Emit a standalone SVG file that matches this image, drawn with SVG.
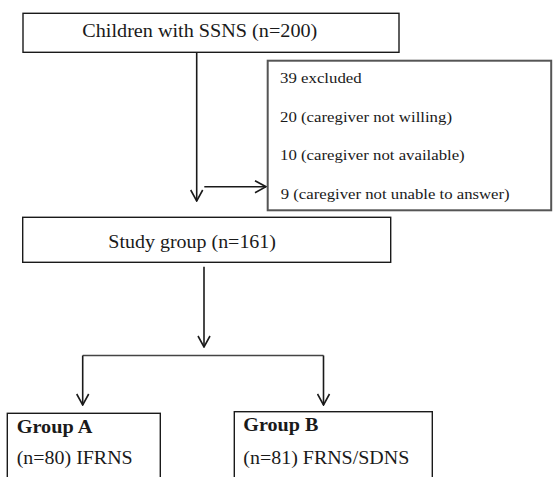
<svg xmlns="http://www.w3.org/2000/svg" width="553" height="477" viewBox="0 0 553 477">
<defs>
<style>
.box{fill:#fff;stroke:#1a1a1a;stroke-width:1.4}
.gbox{fill:#fff;stroke:#555;stroke-width:2}
.t{font-family:"Liberation Serif","Times New Roman",serif;fill:#1a1a1a}
.big{font-size:18px}
.small{font-size:15.5px}
.b{font-weight:bold}
.c{fill:none;stroke:#1a1a1a;stroke-width:1.6}
</style>
<marker id="arr" viewBox="-13 -7 14 14" refX="0" refY="0" markerWidth="14" markerHeight="14" markerUnits="userSpaceOnUse" orient="auto">
<path d="M-11,-6 L0,0 L-11,6" fill="none" stroke="#1a1a1a" stroke-width="1.6"/>
</marker>
</defs>
<rect width="553" height="477" fill="#fff"/>
<g id="connectors">
<path class="c" d="M196.7 52.3 V201" marker-end="url(#arr)"/>
<path class="c" d="M204.3 186.7 H266" marker-end="url(#arr)"/>
<path class="c" d="M204 266.7 V347" marker-end="url(#arr)"/>
<path class="c" d="M82.7 355.5 H323.5" style="stroke:#444"/>
<path class="c" d="M82.7 355.5 V405" marker-end="url(#arr)"/>
<path class="c" d="M323.5 355.5 V405" marker-end="url(#arr)"/>
</g>
<g id="children">
<rect class="box" x="23" y="13.3" width="376" height="39"/>
<text class="t big" x="82.3" y="36.7" textLength="235" lengthAdjust="spacingAndGlyphs">Children with SSNS (n=200)</text>
</g>
<g id="excluded">
<rect class="gbox" x="267.7" y="60.7" width="283.5" height="149.6"/>
<text class="t small" x="280" y="82.7" textLength="81.7" lengthAdjust="spacingAndGlyphs">39 excluded</text>
<text class="t small" x="280" y="121.7" textLength="172" lengthAdjust="spacingAndGlyphs">20 (caregiver not willing)</text>
<text class="t small" x="280" y="160" textLength="184.7" lengthAdjust="spacingAndGlyphs">10 (caregiver not available)</text>
<text class="t small" x="280.7" y="199" textLength="229" lengthAdjust="spacingAndGlyphs">9 (caregiver not unable to answer)</text>
</g>
<g id="study">
<rect class="box" x="22.7" y="217.3" width="368" height="45"/>
<text class="t big" x="108.3" y="248.3" textLength="167.7" lengthAdjust="spacingAndGlyphs">Study group (n=161)</text>
</g>
<g id="groupA">
<rect class="box" x="7.3" y="413.3" width="153" height="80"/>
<text class="t big b" x="16.7" y="432.7" textLength="75.6" lengthAdjust="spacingAndGlyphs">Group A</text>
<text class="t big" x="16.7" y="464.3" textLength="116" lengthAdjust="spacingAndGlyphs">(n=80) IFRNS</text>
</g>
<g id="groupB">
<rect class="box" x="234.3" y="411.7" width="198" height="80"/>
<text class="t big b" x="243.3" y="430.7" textLength="75" lengthAdjust="spacingAndGlyphs">Group B</text>
<text class="t big" x="243.3" y="463.5" textLength="166" lengthAdjust="spacingAndGlyphs">(n=81) FRNS/SDNS</text>
</g>
</svg>
